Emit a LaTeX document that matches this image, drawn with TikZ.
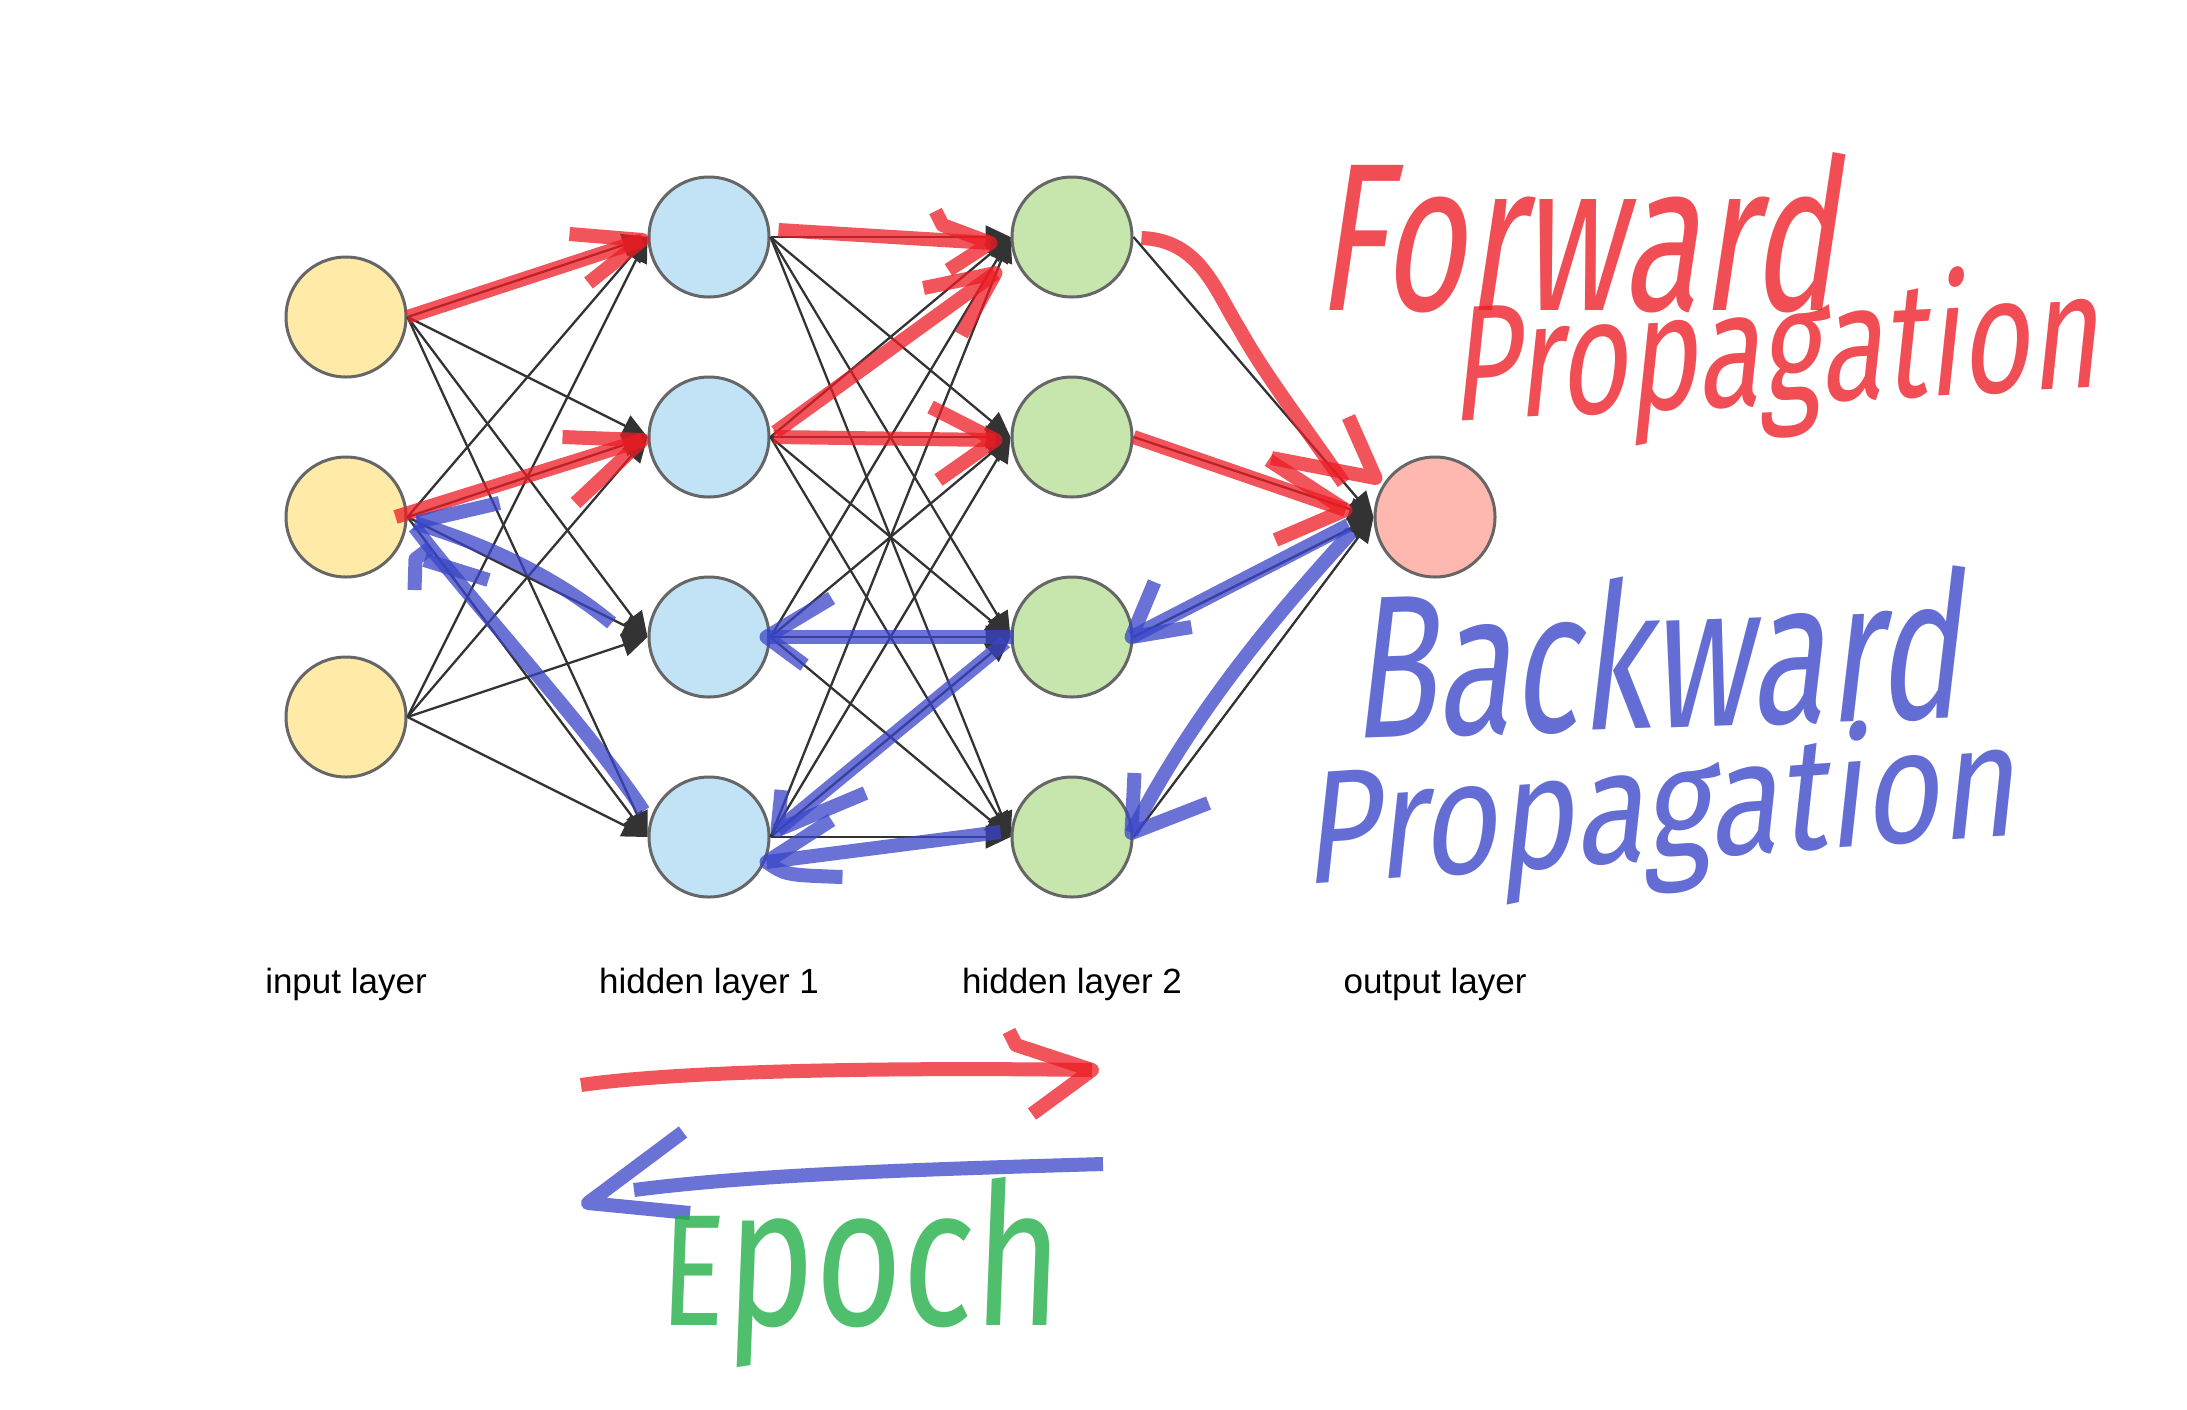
\documentclass[tikz,border=0pt]{standalone}
\usepackage{fontspec}
\setmainfont{Liberation Sans}
\newfontfamily\handfont[FakeSlant=0.22]{Fira Sans}
\newfontfamily\handup[FakeSlant=0.05]{Fira Sans}
\usetikzlibrary{arrows.meta,calc}
\definecolor{inpc}{HTML}{FFEAA7}
\definecolor{hidc}{HTML}{C2E3F5}
\definecolor{hidd}{HTML}{C6E6AD}
\definecolor{outc}{HTML}{FFB8AF}
\definecolor{rimc}{HTML}{666666}
\definecolor{edgec}{HTML}{333333}
\definecolor{mkred}{RGB}{237,28,36}
\definecolor{mkblue}{RGB}{57,69,200}
\definecolor{mkgreen}{RGB}{31,173,69}
\begin{document}
\begin{tikzpicture}[x=1pt,y=-1pt,
  neuron/.style={circle,draw=rimc,line width=3pt,minimum size=120pt,inner sep=0pt},
  wire/.style={draw=edgec,line width=2.3pt,-{Triangle[length=25pt,width=23pt]}},
  marker/.style={line width=14pt,line cap=butt,line join=round,draw opacity=0.75},
  fwd/.style={marker,draw=mkred},
  bwd/.style={marker,draw=mkblue},
  layertext/.style={font=\fontsize{35}{42}\selectfont,anchor=base,inner sep=0pt},
  hand/.style={inner sep=0pt,anchor=base,text opacity=0.78}]
\useasboundingbox[fill=white] (0,0) rectangle (2187,1409);

% neurons
\node[neuron,fill=inpc] (i1) at (346,317) {};
\node[neuron,fill=inpc] (i2) at (346,517) {};
\node[neuron,fill=inpc] (i3) at (346,717) {};
\foreach \k/\y in {1/237,2/437,3/637,4/837}{
  \node[neuron,fill=hidc] (h\k) at (709,\y) {};
  \node[neuron,fill=hidd] (g\k) at (1072,\y) {};
}
\node[neuron,fill=outc] (o) at (1435,517) {};

% layer labels
\node[layertext] (li) at (346,993) {input layer};
\node[layertext] (lh1) at (709,993) {hidden layer 1};
\node[layertext] (lh2) at (1072,993) {hidden layer 2};
\node[layertext] (lo) at (1435,993) {output layer};

% black connections
\foreach \a in {1,2,3}{\foreach \b in {1,2,3,4}{\draw[wire] (i\a.east) -- (h\b.west);}}
\foreach \a in {1,2,3,4}{\foreach \b in {1,2,3,4}{\draw[wire] (h\a.east) -- (g\b.west);}}
\foreach \a in {1,2,3,4}{\draw[wire] (g\a.east) -- (o.west);}

% ---------- forward (red) strokes ----------
% i1 -> h1
\draw[fwd] (i1.east) -- ($(h1.west)+(-5,3)$);
\draw[fwd] ($(h1.west)+(-78,-3)$) -- ($(h1.west)+(-5,3)$) -- ($(h1.west)+(-59,46)$);
% i2 -> h2
\draw[fwd] ($(i2.east)+(-12,0)$) -- ($(h2.west)+(-5,3)$);
\draw[fwd] ($(h2.west)+(-85,0)$) -- ($(h2.west)+(-5,3)$) -- ($(h2.west)+(-72,66)$);
% h1 -> g1
\draw[fwd] ($(h1.east)+(8,-7)$) -- ($(g1.west)+(-20,6)$);
\draw[fwd] ($(g1.west)+(-75,-26)$) -- ($(g1.west)+(-68,-12)$) -- ($(g1.west)+(-20,6)$) -- ($(g1.west)+(-62,33)$);
% h2 -> g1
\draw[fwd] ($(h2.east)+(5,-5)$) -- ($(g1.west)+(-15,36)$);
\draw[fwd] ($(g1.west)+(-87,51)$) -- ($(g1.west)+(-15,36)$) -- ($(g1.west)+(-49,98)$);
% h2 -> g2
\draw[fwd] ($(h2.east)+(3,0)$) -- ($(g2.west)+(-15,3)$);
\draw[fwd] ($(g2.west)+(-80,-30)$) -- ($(g2.west)+(-15,3)$) -- ($(g2.west)+(-72,43)$);
% g1 -> o (curvy)
\draw[fwd] ($(g1.east)+(8,1)$) .. controls (1200,240) and (1215,290) .. (1240,330)
   .. controls (1265,375) and (1300,420) .. ($(o.west)+(-30,-34)$);
\draw[fwd] ($(o.west)+(-25,-100)$) -- ($(o.west)+(2,-39)$) -- ($(o.west)+(-102,-59)$);
% g2 -> o
\draw[fwd] (g2.east) -- ($(o.west)+(-28,-7)$);
\draw[fwd] ($(o.west)+(-105,-57)$) -- ($(o.west)+(-28,-7)$) -- ($(o.west)+(-98,23)$);

% ---------- backward (blue) strokes ----------
% o -> g3
\draw[bwd] ($(o.west)+(-25,8)$) -- ($(g3.east)+(-2,0)$);
\draw[bwd] ($(g3.east)+(21,-55)$) -- ($(g3.east)+(-2,0)$) -- ($(g3.east)+(58,-10)$);
% o -> g4
\draw[bwd] ($(o.west)+(-22,15)$) .. controls (1290,600) and (1200,700) .. ($(g4.east)+(-2,-4)$);
\draw[bwd] ($(g4.east)+(1,-64)$) -- ($(g4.east)+(-2,-4)$) -- ($(g4.east)+(75,-34)$);
% g3 -> h3
\draw[bwd] ($(g3.west)+(3,0)$) -- ($(h3.east)+(-4,0)$);
\draw[bwd] ($(h3.east)+(61,-39)$) -- ($(h3.east)+(-4,0)$) -- ($(h3.east)+(34,28)$);
% g3 -> h4
\draw[bwd] ($(g3.west)+(-5,5)$) -- ($(h4.east)+(7,-7)$);
\draw[bwd] ($(h4.east)+(11,-47)$) -- ($(h4.east)+(7,-7)$) -- ($(h4.east)+(95,-44)$);
% g4 -> h4
\draw[bwd] ($(g4.west)+(-10,-5)$) -- ($(h4.east)+(-4,25)$);
\draw[bwd] ($(h4.east)+(61,-17)$) -- ($(h4.east)+(-4,25)$) .. controls ($(h4.east)+(15,38)$) .. ($(h4.east)+(72,40)$);
% h3 -> i2
\draw[bwd] ($(h3.west)+(-36,-14)$) .. controls (560,580) and (490,545) .. ($(i2.east)+(7,6)$);
% h4 -> i2
\draw[bwd] ($(h4.west)+(-4,-26)$) .. controls (590,730) and (470,600) .. ($(i2.east)+(7,10)$);
% arrow head at i2
\draw[bwd] ($(i2.east)+(92,-14)$) -- ($(i2.east)+(10,5)$);
\draw[bwd] ($(i2.east)+(7,73)$) -- ($(i2.east)+(8,42)$) -- ($(i2.east)+(24,30)$);
\draw[bwd] ($(i2.east)+(17,43)$) -- ($(i2.east)+(81,63)$);

% ---------- epoch arrows ----------
\coordinate (fa) at (581,1085);
\coordinate (fb) at (1092,1070);
\draw[fwd] (fa) .. controls (700,1068) and (950,1068) .. (fb);
\draw[fwd] (1009,1031) -- (1016,1045) -- (fb) -- (1032,1114);
\coordinate (ba) at (1103,1164);
\coordinate (bb) at (634,1190);
\draw[bwd] (ba) .. controls (900,1170) and (750,1175) .. (bb);
\draw[bwd] (683,1132) -- (588,1203) -- (690,1213);

% ---------- handwritten words ----------
\node[hand,text=mkred] (tf1) at (1576,310) {\resizebox{520pt}{158pt}{\handfont Forward}};
\node[hand,text=mkred,rotate=3] (tf2) at (1775,404) {\resizebox{650pt}{128pt}{\handfont Propagation}};
\node[hand,text=mkblue,rotate=2] (tb1) at (1656,728) {\resizebox{610pt}{152pt}{\handfont Backward}};
\node[hand,text=mkblue,rotate=4] (tb2) at (1660,860) {\resizebox{715pt}{125pt}{\handfont Propagation}};
\node[hand,text=mkgreen] (te) at (860,1325) {\resizebox{400pt}{148pt}{\handup\scalebox{0.8}{E}poch}};
\end{tikzpicture}
\end{document}
